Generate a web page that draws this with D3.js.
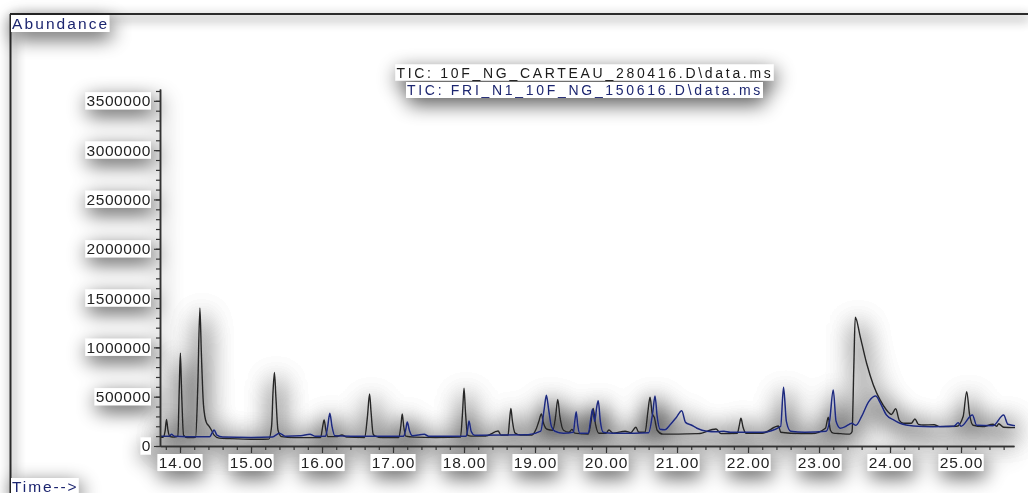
<!DOCTYPE html>
<html>
<head>
<meta charset="utf-8">
<script src="https://cdn.jsdelivr.net/npm/d3@7"></script>
<style>
  html, body { margin: 0; padding: 0; background: #fff; }
  svg { display: block; }
  text { font-family: "Liberation Sans", Arial, sans-serif; }
</style>
</head>
<body>
<svg id="chart" width="1028" height="493"></svg>
<script>
// Total ion chromatograms, abundance in thousands of counts vs retention time (min)
const carteauName = "TIC: 10F_NG_CARTEAU_280416.D\\data.ms";
const friName = "TIC: FRI_N1_10F_NG_150616.D\\data.ms";

const carteauTrace = [
  [13.72, 90], [13.76, 88], [13.79, 150], [13.81, 270], [13.83, 160], [13.86, 95],
  [13.92, 90], [13.97, 100], [13.99, 600], [14.005, 940], [14.02, 600], [14.05, 110],
  [14.10, 85], [14.17, 85], [14.22, 90], [14.25, 600], [14.28, 1400], [14.30, 950],
  [14.33, 420], [14.37, 240], [14.41, 200], [14.44, 165], [14.48, 110], [14.55, 80],
  [14.70, 75], [14.90, 70], [15.10, 68], [15.25, 70], [15.29, 200], [15.31, 550],
  [15.33, 747], [15.35, 500], [15.38, 160], [15.43, 95], [15.60, 85], [15.80, 85],
  [15.98, 85], [16.01, 200], [16.03, 264], [16.05, 180], [16.08, 95], [16.20, 95],
  [16.28, 112], [16.35, 90], [16.60, 85], [16.64, 300], [16.67, 527], [16.69, 350],
  [16.72, 120], [16.75, 100], [16.85, 85], [17.08, 85], [17.11, 200], [17.13, 325],
  [17.15, 200], [17.18, 100], [17.30, 90], [17.60, 85], [17.95, 90], [17.98, 350],
  [18.00, 585], [18.02, 350], [18.05, 110], [18.10, 100], [18.30, 100], [18.48, 152],
  [18.52, 110], [18.62, 110], [18.64, 250], [18.66, 382], [18.68, 260], [18.72, 130],
  [18.80, 110], [18.95, 110], [19.01, 162], [19.05, 240], [19.09, 325], [19.12, 230],
  [19.17, 170], [19.25, 160], [19.29, 300], [19.32, 473], [19.35, 300], [19.40, 160],
  [19.48, 140], [19.52, 169], [19.56, 130], [19.75, 120], [19.79, 250], [19.82, 382],
  [19.85, 230], [19.90, 130], [20.00, 130], [20.04, 162], [20.10, 130], [20.27, 150],
  [20.35, 135], [20.42, 190], [20.46, 140], [20.55, 140], [20.59, 350], [20.62, 494],
  [20.65, 330], [20.68, 290], [20.72, 160], [20.80, 120], [21.00, 120], [21.30, 125],
  [21.55, 172], [21.62, 125], [21.85, 130], [21.88, 220], [21.90, 281], [21.93, 190],
  [21.97, 130], [22.20, 130], [22.43, 203], [22.46, 140], [22.60, 130], [22.90, 125],
  [23.09, 180], [23.13, 291], [23.16, 160], [23.20, 130], [23.30, 125], [23.43, 120],
  [23.465, 145], [23.49, 800], [23.51, 1305], [23.58, 1109], [23.67, 839], [23.765, 619],
  [23.86, 467], [23.95, 365], [24.02, 320], [24.08, 378], [24.13, 260], [24.19, 230],
  [24.30, 230], [24.35, 274], [24.40, 220], [24.47, 213], [24.62, 216], [24.70, 196],
  [24.94, 200], [25.03, 300], [25.08, 551], [25.12, 320], [25.17, 210], [25.30, 196],
  [25.45, 220], [25.50, 200], [25.53, 225], [25.60, 190], [25.76, 186]
];

const friTrace = [
  [13.72, 100], [13.85, 100], [13.88, 118], [13.92, 100], [14.10, 95], [14.42, 95],
  [14.45, 130], [14.48, 162], [14.52, 110], [14.60, 90], [15.00, 85], [15.30, 90],
  [15.40, 129], [15.48, 100], [15.70, 105], [15.83, 119], [15.90, 100], [16.05, 100],
  [16.08, 200], [16.11, 332], [16.14, 200], [16.18, 105], [16.40, 100], [16.80, 100],
  [17.15, 100], [17.18, 170], [17.20, 243], [17.23, 160], [17.27, 105], [17.44, 118],
  [17.50, 100], [18.03, 100], [18.05, 160], [18.07, 253], [18.10, 150], [18.15, 110],
  [18.20, 110], [18.90, 115], [19.08, 150], [19.13, 380], [19.16, 514], [19.19, 380],
  [19.23, 200], [19.28, 150], [19.40, 130], [19.54, 140], [19.56, 250], [19.58, 348],
  [19.60, 220], [19.63, 130], [19.75, 130], [19.79, 300], [19.81, 372], [19.84, 250],
  [19.87, 400], [19.89, 460], [19.92, 250], [19.96, 140], [20.10, 130], [20.40, 130],
  [20.60, 135], [20.66, 350], [20.69, 507], [20.72, 300], [20.76, 170], [20.83, 165],
  [20.90, 213], [20.99, 290], [21.066, 358], [21.12, 240], [21.20, 213], [21.28, 180],
  [21.42, 150], [21.55, 145], [21.66, 150], [21.75, 140], [22.20, 140], [22.46, 200],
  [22.50, 595], [22.54, 250], [22.60, 150], [22.80, 140], [23.10, 150], [23.15, 260],
  [23.20, 568], [23.24, 250], [23.30, 180], [23.38, 200], [23.46, 230], [23.52, 210],
  [23.60, 300], [23.70, 450], [23.80, 507], [23.86, 440], [23.95, 314], [24.05, 264],
  [24.14, 230], [24.33, 203], [24.60, 196], [24.90, 200], [24.96, 236], [25.00, 200],
  [25.16, 314], [25.22, 210], [25.45, 205], [25.60, 314], [25.66, 220], [25.76, 206]
];

const yTickValues = [0, 500000, 1000000, 1500000, 2000000, 2500000, 3000000, 3500000];
const xTickValues = [14, 15, 16, 17, 18, 19, 20, 21, 22, 23, 24, 25];
const xMinorStep = 0.2;
const yMinorStep = 100000;
const UNIT = 1000;

const svg = d3.select("#chart");
const defs = svg.append("defs");

// soft grey drop shadow; thin strokes get a stronger alpha gain than filled boxes
function addHaze(id, std, gain, dy) {
  const f = defs.append("filter").attr("id", id)
    .attr("filterUnits", "userSpaceOnUse")
    .attr("x", -60).attr("y", -60).attr("width", 1150).attr("height", 620);
  f.append("feGaussianBlur").attr("in", "SourceAlpha").attr("stdDeviation", std).attr("result", "b");
  f.append("feOffset").attr("in", "b").attr("dx", 2).attr("dy", dy).attr("result", "o");
  f.append("feComponentTransfer").attr("in", "o").attr("result", "s")
    .append("feFuncA").attr("type", "linear").attr("slope", gain);
  const m = f.append("feMerge");
  m.append("feMergeNode").attr("in", "s");
  m.append("feMergeNode").attr("in", "SourceGraphic");
}
addHaze("hazeBox", 10, 0.7, 6);
addHaze("hazeLine", 13, 3.0, 6);
addHaze("hazeFrame", 6, 0.9, 4);

const x = d3.scaleLinear().domain([13.718, 25.746]).range([160, 1014]);
const y = d3.scaleLinear().domain([0, 3620000]).range([446, 89]);

const frame = svg.append("g").attr("filter", "url(#hazeFrame)");
frame.append("line").attr("x1", 10).attr("x2", 1028).attr("y1", 14).attr("y2", 14)
  .attr("stroke", "#2a2a2a").attr("stroke-width", 2);
frame.append("line").attr("x1", 10.5).attr("x2", 10.5).attr("y1", 14).attr("y2", 493)
  .attr("stroke", "#2a2a2a").attr("stroke-width", 2);

// traces
const line = d3.line()
  .x(d => x(d[0]))
  .y(d => y(d[1] * UNIT))
  .curve(d3.curveMonotoneX);

const traces = svg.append("g").attr("filter", "url(#hazeLine)");
traces.append("path").datum(carteauTrace)
  .attr("d", line).attr("fill", "none").attr("stroke", "#262626").attr("stroke-width", 1.4);
traces.append("path").datum(friTrace)
  .attr("d", line).attr("fill", "none").attr("stroke", "#1f2a7e").attr("stroke-width", 1.5);

const root = svg.append("g").attr("filter", "url(#hazeBox)");

function boxedText(g, txt, px, py, opts) {
  const t = g.append("text").attr("x", px).attr("y", py)
    .attr("text-anchor", opts.anchor || "start")
    .attr("font-size", opts.size).attr("letter-spacing", opts.ls)
    .attr("fill", opts.color).text(txt);
  const bb = t.node().getBBox();
  g.insert("rect", () => t.node())
    .attr("x", bb.x - 1).attr("y", bb.y).attr("width", bb.width + 1).attr("height", bb.height)
    .attr("fill", "#fff");
  return t;
}

const labels = root.append("g");
boxedText(labels, "Abundance", 12, 29, { size: 15.5, ls: 2.1, color: "#1d2670" });
boxedText(labels, "Time-->", 12, 492, { size: 15.5, ls: 1.9, color: "#1d2670" });
boxedText(labels, carteauName, 585, 77.5, { size: 14, ls: 2.7, color: "#1a1a1a", anchor: "middle" });
boxedText(labels, friName, 585, 95, { size: 14, ls: 2.7, color: "#1d2670", anchor: "middle" });

// axes: minor ticks first, then labelled major ticks
const xMinor = d3.range(13.8, 25.75, xMinorStep);
const yMinor = d3.range(0, 3620001, yMinorStep);

const xMinorG = root.append("g").attr("transform", "translate(0,446)")
  .call(d3.axisBottom(x).tickValues(xMinor).tickSize(4).tickSizeOuter(0).tickFormat(""));
const yMinorG = root.append("g").attr("transform", "translate(160,0)")
  .call(d3.axisLeft(y).tickValues(yMinor).tickSize(4).tickSizeOuter(0).tickFormat(""));

const xAxisG = root.append("g").attr("transform", "translate(0,446)")
  .call(d3.axisBottom(x).tickValues(xTickValues).tickSize(7).tickSizeOuter(0)
    .tickPadding(4).tickFormat(d3.format(".2f")));
const yAxisG = root.append("g").attr("transform", "translate(160,0)")
  .call(d3.axisLeft(y).tickValues(yTickValues).tickSize(6).tickSizeOuter(0)
    .tickPadding(3).tickFormat(d3.format("d")));

[xMinorG, yMinorG, xAxisG, yAxisG].forEach(g => {
  g.selectAll("path.domain").attr("stroke", "#333").attr("stroke-width", 1.5);
  g.selectAll(".tick line").attr("stroke", "#333").attr("stroke-width", 1.2);
});
xAxisG.selectAll(".tick text").attr("font-size", 15.5).attr("letter-spacing", 1)
  .attr("fill", "#222").attr("font-family", "Liberation Sans, Arial, sans-serif");
yAxisG.selectAll(".tick text").attr("font-size", 15.5).attr("letter-spacing", 0.6)
  .attr("fill", "#222").attr("font-family", "Liberation Sans, Arial, sans-serif");
[xAxisG, yAxisG].forEach(g => {
  g.selectAll(".tick").each(function () {
    const tick = d3.select(this);
    const t = tick.select("text");
    const bb = t.node().getBBox();
    tick.insert("rect", "text").attr("x", bb.x - 1).attr("y", bb.y)
      .attr("width", bb.width + 1).attr("height", bb.height).attr("fill", "#fff");
  });
});
</script>
</body>
</html>
